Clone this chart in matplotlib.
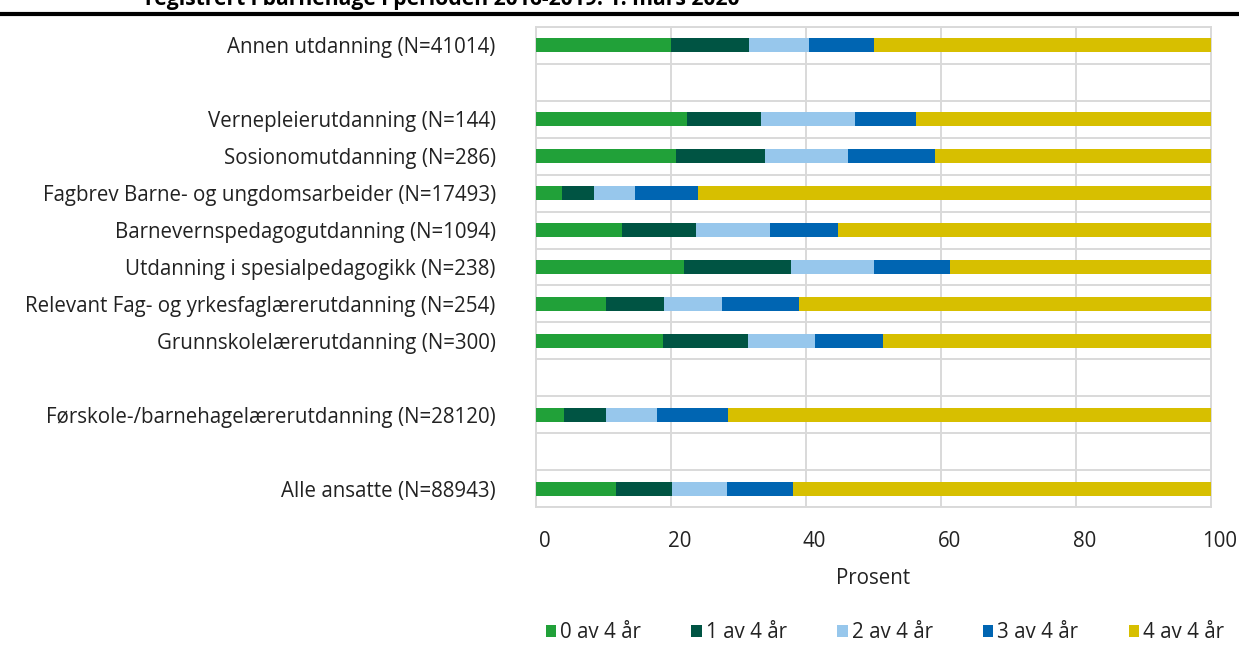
import matplotlib
matplotlib.use('Agg')
import matplotlib.pyplot as plt
import matplotlib.lines as mlines
import matplotlib.transforms as mtrans
import numpy as np

plt.rcParams['font.family'] = ['Open Sans', 'DejaVu Sans']

# Kategorier fra topp til bunn ('' = tom rad)
kategorier = [
    'Annen utdanning (N=41014)',
    '',
    'Vernepleierutdanning (N=144)',
    'Sosionomutdanning (N=286)',
    'Fagbrev Barne- og ungdomsarbeider (N=17493)',
    'Barnevernspedagogutdanning (N=1094)',
    'Utdanning i spesialpedagogikk (N=238)',
    'Relevant Fag- og yrkesfaglærerutdanning (N=254)',
    'Grunnskolelærerutdanning (N=300)',
    '',
    'Førskole-/barnehagelærerutdanning (N=28120)',
    '',
    'Alle ansatte (N=88943)',
]

serier = ['0 av 4 år', '1 av 4 år', '2 av 4 år', '3 av 4 år', '4 av 4 år']
farger = ['#21a139', '#005443', '#97c7ec', '#0065b2', '#d7bf00']

# Prosent per kategori (samme rekkefølge som kategorier)
null_av_4 = [20.0, 0, 22.3, 20.7, 3.9, 12.7, 21.9, 10.3, 18.8, 0, 4.1, 0, 11.8]
en_av_4 = [11.6, 0, 11.0, 13.2, 4.7, 11.0, 15.9, 8.6, 12.6, 0, 6.2, 0, 8.4]
to_av_4 = [8.9, 0, 14.0, 12.3, 6.0, 10.9, 12.3, 8.7, 10.0, 0, 7.6, 0, 8.1]
tre_av_4 = [9.5, 0, 9.0, 12.9, 9.4, 10.1, 11.2, 11.4, 10.0, 0, 10.5, 0, 9.8]
fire_av_4 = [50.0, 0, 43.7, 40.9, 76.0, 55.3, 38.7, 61.0, 48.6, 0, 71.6, 0, 61.9]

verdier = [null_av_4, en_av_4, to_av_4, tre_av_4, fire_av_4]

tekstfarge = '#222222'
fs = 14.8

# ================================
# Figur
# ================================
fig = plt.figure(figsize=(12.39, 6.46), dpi=100)
ax = fig.add_axes([536 / 1239, 1 - 507 / 646, 675 / 1239, 480 / 646])

n = len(kategorier)
y = np.arange(n)[::-1]
venstre = np.zeros(n)
for navn, farge, v in zip(serier, farger, verdier):
    v = np.array(v, dtype=float)
    ax.barh(y, v, left=venstre, height=0.38, color=farge, label=navn, zorder=3)
    venstre += v

ax.set_xlim(0, 100)
ax.set_ylim(-0.5, n - 0.5)
ax.set_xticks([0, 20, 40, 60, 80, 100])
ax.set_yticks(y)
ax.set_yticklabels(kategorier)

# rutenett
grid_farge = '#d9d9d9'
for gx in [20, 40, 60, 80]:
    ax.axvline(gx, color=grid_farge, linewidth=1.4, zorder=1)
for gy in np.arange(-0.5, n, 1.0):
    ax.axhline(gy, color=grid_farge, linewidth=1.4, zorder=1)
for s in ax.spines.values():
    s.set_color(grid_farge)
    s.set_linewidth(1.4)

ax.tick_params(axis='y', length=0, pad=29, labelsize=fs, labelcolor=tekstfarge)
ax.tick_params(axis='x', length=0, pad=17.5, labelsize=fs, labelcolor=tekstfarge)

# x-etikettene står litt til høyre for strekene, som i originalen
offset = mtrans.ScaledTranslation(8.5 / 100, 0, fig.dpi_scale_trans)
for lab in ax.get_xticklabels():
    lab.set_transform(lab.get_transform() + offset)

ax.set_xlabel('Prosent', fontsize=fs, color=tekstfarge, labelpad=11)

# Forklaring
fig.legend(loc='center', bbox_to_anchor=(885 / 1239, 1 - 633 / 646), ncol=5,
           frameon=False, fontsize=fs, handlelength=0.5, handleheight=0.5,
           handletextpad=0.2, columnspacing=2.45, labelcolor=tekstfarge,
           borderpad=0.1)

# Avkuttet tittel og strek øverst
fig.text(145 / 1239, 1 - 5 / 646, 'registrert i barnehage i perioden 2016-2019. 1. mars 2020',
         fontsize=15.2, fontweight='bold', va='baseline', ha='left')
fig.add_artist(mlines.Line2D([0, 1], [1 - 14 / 646, 1 - 14 / 646], color='black',
                             linewidth=3, transform=fig.transFigure))

fig.savefig('out.png', dpi=100)
